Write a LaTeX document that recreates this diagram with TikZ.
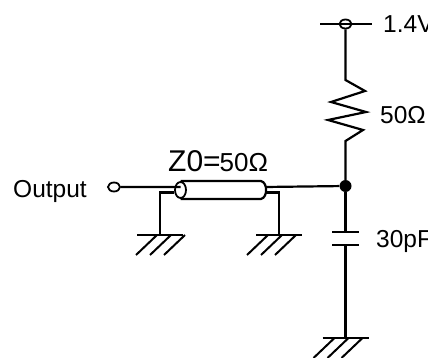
\documentclass[tikz,border=0pt]{standalone}
\usepackage{fontspec}
\setmainfont{Liberation Sans}
\usetikzlibrary{shapes.geometric}
\tikzset{
    wire/.style={line width=2.2pt},
    term/.style={draw, ellipse, line width=1.8pt, fill=white, minimum width=12pt, minimum height=9pt, inner sep=0pt},
    dot/.style={circle, fill=black, minimum size=12pt, inner sep=0pt},
    lbl/.style={inner sep=0pt, font=\fontsize{24.5}{26}\selectfont},
    gnd/.pic={
        \draw[wire] (-23,0) -- (23,0);
        \foreach \h in {0,14,28}
            \draw[line width=2pt] (#1+\h,0) -- ++(-21,20);
    }
}

\begin{document}
\begin{tikzpicture}[x=1pt, y=-1pt]
    \useasboundingbox (0,0) rectangle (428,358);
    % junction and terminals
    \node [dot] (junc) at (345.5,186) {};
    \node [term] (out) at (114,187) {};
    \node [term] (vdd) at (345.5,24) {};
    \coordinate (railL) at (320,24);
    \coordinate (railR) at (372,24);
    % supply and resistor
    \draw [wire] (railL) -- (railR);
    \coordinate (rtop) at (345.5,80);
    \coordinate (rbot) at (345.5,141);
    \draw [wire] (vdd) -- (rtop) -- (365,91) -- (331,102) -- (366,112)
        -- (328,120) -- (363,130) -- (rbot) -- (junc);
    % capacitor
    \coordinate (capA) at (345.5,232);
    \coordinate (capB) at (345.5,245);
    \coordinate (gndC) at (345.5,338);
    \draw [wire] (junc) -- (capA) (332,232) -- (359,232);
    \draw [wire] (332,245) -- (359,245) (capB) -- (gndC);
    \path (gndC) pic {gnd=-11};
    % coax
    \node [draw, ellipse, line width=1.8pt, minimum width=11pt, minimum height=16pt, inner sep=0pt] (coaxL) at (180.5,190) {};
    \coordinate (coaxM) at (180.5,187);
    \coordinate (coaxE) at (265,187);
    \coordinate (coaxX) at (261,190);
    \draw [wire] (out) -- (coaxM) (coaxE) -- (junc);
    \draw [wire] (coaxL.north) -- (coaxL.north -| coaxX) to [out=-10, in=10] (coaxL.south -| coaxX) -- (coaxL.south);
    % shields
    \coordinate (gndA) at (160,235);
    \coordinate (gndB) at (279,235);
    \draw [wire] (coaxL.west |- 0,192.5) -| (gndA);
    \draw [wire] (265,192.5) -| (gndB);
    \path (gndA) pic {gnd=-3};
    \path (gndB) pic {gnd=-11};
    % labels
    \node [lbl, anchor=west] (lblvdd) at (383,24) {1.4V};
    \node [lbl, anchor=west] (lblres) at (380,115) {50Ω};
    \node [lbl, anchor=west] (lblcap) at (376,241) {30pF};
    \node [lbl, anchor=west] (lblout) at (13,191) {Output};
    \node [lbl, anchor=base west] (lblz) at (168,172) {{\fontsize{30}{30}\selectfont Z0=}\kern-1pt{\fontsize{26}{26}\selectfont 50Ω}};
\end{tikzpicture}
\end{document}
